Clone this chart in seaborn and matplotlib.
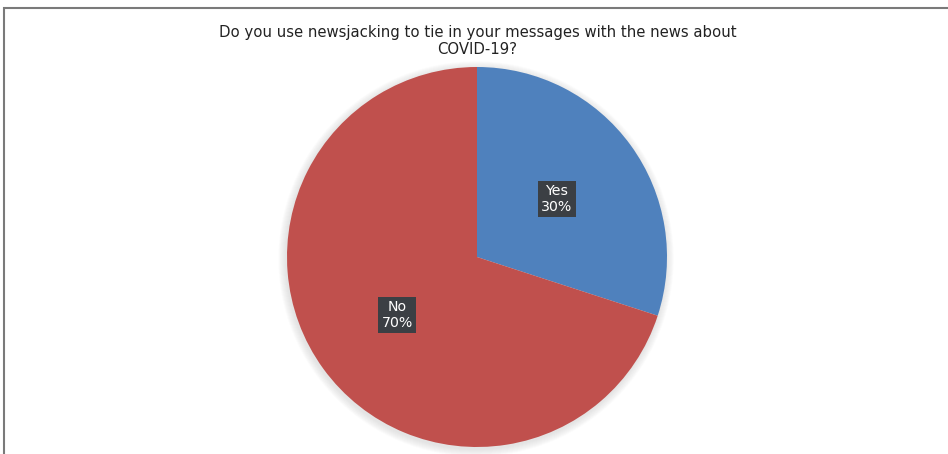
import matplotlib
matplotlib.use("Agg")
import matplotlib.pyplot as plt
from matplotlib.patches import Circle, Rectangle
import seaborn as sns

# Survey answers
answers = ["Yes", "No"]
shares = [30, 70]
slice_colors = ["#4F81BD", "#C0504D"]
title_text = "Do you use newsjacking to tie in your messages with the news about\nCOVID-19?"

sns.set_theme(style="white")
plt.rcParams["font.family"] = ["DejaVu Sans"]

W, H = 948, 454
fig = plt.figure(figsize=(W / 100, H / 100), dpi=100)
fig.patch.set_facecolor("white")

# Chart frame (open on the right and bottom edges of the canvas)
fig.add_artist(Rectangle((4 / W, -0.05), 1.1, (H - 8) / H + 0.05,
                         transform=fig.transFigure, fill=False,
                         edgecolor="#7a7a7a", linewidth=1.5))

# Pie axes: centre at (477, 257) px, radius 190 px
cx, cy, r = 477, 257, 190
lim = 1.15
half = r * lim
ax = fig.add_axes([(cx - half) / W, (H - cy - half) / H, 2 * half / W, 2 * half / H])

# soft shadow behind the pie
for k in range(8):
    ax.add_patch(Circle((-0.005, -0.01), 1.0 + 0.005 * (k + 1),
                        facecolor="#a0a0a0", alpha=0.035, edgecolor="none", zorder=0))

labels_iter = iter(answers)
wedges, _, autotexts = ax.pie(
    shares,
    colors=slice_colors,
    startangle=90,
    counterclock=False,
    radius=1.0,
    pctdistance=0.52,
    autopct=lambda p: f"{next(labels_iter)}\n{p:.0f}%",
    wedgeprops=dict(linewidth=0, zorder=2),
    textprops=dict(color="white", fontsize=10.2, ha="center", va="center"),
)
for t in autotexts:
    t.set_zorder(5)
    t.set_linespacing(1.15)
    t.set_bbox(dict(boxstyle="square,pad=0.25", facecolor="#3b3f44", edgecolor="none"))

ax.set_xlim(-lim, lim)
ax.set_ylim(-lim, lim)
ax.set_aspect("equal")
ax.axis("off")

fig.text(477.5 / W, 1 - 41 / H, title_text, ha="center", va="center",
         fontsize=10.7, color="#222222", linespacing=1.22)

fig.savefig("out.png", dpi=100, facecolor="white")
